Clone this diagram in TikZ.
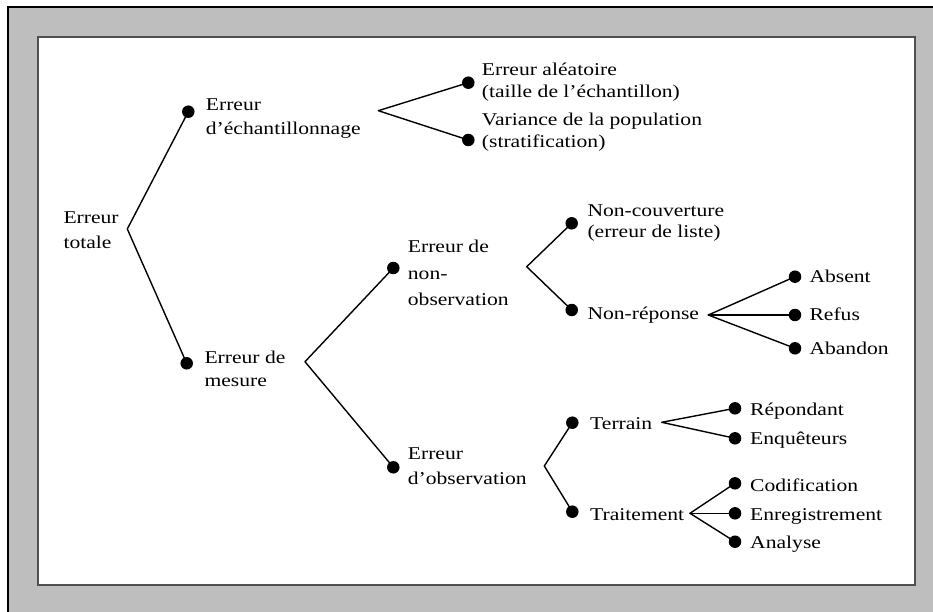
\documentclass[tikz,border=0pt]{standalone}
\usepackage{fontspec}
\setmainfont{Liberation Serif}[FakeStretch=1.2]
\newcommand\mlines[2]{\def\arraystretch{#1}\begin{tabular}[t]{@{}l@{}}#2\end{tabular}}
\definecolor{bggray}{HTML}{BEBEBE}
\definecolor{framegray}{HTML}{505050}
\tikzset{
  lbl/.style={anchor=base west, inner sep=0pt, font=\fontsize{18}{24}\selectfont},
  dot/.style={circle, fill=black, draw=none, inner sep=0pt, minimum size=12.5pt},
  branch/.style={line width=1.4pt, line cap=round, line join=round},
}
\begin{document}
\begin{tikzpicture}[x=1pt,y=-1pt]
\useasboundingbox (0,0) rectangle (933,612);
% background
\fill[white] (0,0) rectangle (933,612);
\fill[bggray] (8,7) rectangle (933,612);
\draw[line width=2pt] (8,612) -- (8,7) -- (933,7);
\draw[framegray, fill=white, line width=2.2pt] (38,37) rectangle (915,585);

% root
\node[lbl] (root) at (63.3,223.3) {\mlines{1.04}{Erreur\\totale}};
\coordinate (v0) at (127.3,229);

% level 1
\node[dot] (d1) at (188.3,111.7) {};
\node[lbl] (l1) at (205.7,110.7) {\mlines{1.01}{Erreur\\d’échantillonnage}};
\node[dot] (d2) at (186.7,363.3) {};
\node[lbl] (l2) at (204.3,363.3) {\mlines{0.975}{Erreur de\\mesure}};
\draw[branch] (d1.center) -- (v0) -- (d2.center);

% sampling error children
\coordinate (v1) at (378.3,110.7);
\node[dot] (d11) at (468.3,82.7) {};
\node[lbl] (l11) at (481.7,75.3) {\mlines{0.917}{Erreur aléatoire\\(taille de l’échantillon)}};
\node[dot] (d12) at (468.3,140) {};
\node[lbl] (l12) at (481.7,125.5) {\mlines{0.933}{Variance de la population\\(stratification)}};
\draw[branch] (d11.center) -- (v1) -- (d12.center);

% measurement error children
\coordinate (v2) at (305,361.7);
\node[dot] (d21) at (393.3,268) {};
\node[lbl] (l21) at (407.7,252.7) {\mlines{1.11}{Erreur de\\non-\\observation}};
\node[dot] (d22) at (393.3,467.3) {};
\node[lbl] (l22) at (407.7,459) {\mlines{1.08}{Erreur\\d’observation}};
\draw[branch] (d21.center) -- (v2) -- (d22.center);

% non-observation children
\coordinate (v21) at (526.7,266.7);
\node[dot] (d211) at (571.7,223.3) {};
\node[lbl] (l211) at (587.3,216.7) {\mlines{0.86}{Non-couverture\\(erreur de liste)}};
\node[dot] (d212) at (571.7,310) {};
\node[lbl] (l212) at (587.3,319) {Non-réponse};
\draw[branch] (d211.center) -- (v21) -- (d212.center);

% non-response children
\coordinate (v212) at (708.3,315);
\node[dot] (a1) at (795,276.7) {};
\node[lbl] (la1) at (809.3,282.7) {Absent};
\node[dot] (a2) at (795,315) {};
\node[lbl] (la2) at (809.3,320.7) {Refus};
\node[dot] (a3) at (795,348.3) {};
\node[lbl] (la3) at (809.3,354.3) {Abandon};
\draw[branch] (v212) -- (a1.center);
\draw[branch] (v212) -- (a2.center);
\draw[branch] (v212) -- (a3.center);

% observation children
\coordinate (v22) at (544.3,466);
\node[dot] (d221) at (572.3,422.7) {};
\node[lbl] (l221) at (590,429.3) {Terrain};
\node[dot] (d222) at (572.3,511.7) {};
\node[lbl] (l222) at (590,520) {Traitement};
\draw[branch] (d221.center) -- (v22) -- (d222.center);

% terrain children
\coordinate (v221) at (661.7,422.3);
\node[dot] (t1) at (735,408.3) {};
\node[lbl] (lt1) at (750,415) {Répondant};
\node[dot] (t2) at (735,438.3) {};
\node[lbl] (lt2) at (750,444) {Enquêteurs};
\draw[branch] (t1.center) -- (v221) -- (t2.center);

% traitement children
\coordinate (v222) at (690,513.3);
\node[dot] (p1) at (735,483.3) {};
\node[lbl] (lp1) at (750,491) {Codification};
\node[dot] (p2) at (735,513.3) {};
\node[lbl] (lp2) at (750,520) {Enregistrement};
\node[dot] (p3) at (735,541.7) {};
\node[lbl] (lp3) at (750,548.3) {Analyse};
\draw[branch] (v222) -- (p1.center);
\draw[branch] (v222) -- (p2.center);
\draw[branch] (v222) -- (p3.center);
\end{tikzpicture}
\end{document}
